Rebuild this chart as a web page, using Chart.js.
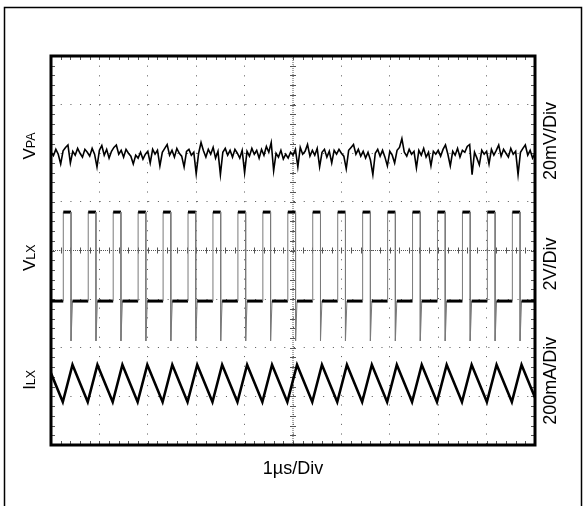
<!DOCTYPE html>
<html>
<head>
<meta charset="utf-8">
<script src="https://cdn.jsdelivr.net/npm/chart.js@4/dist/chart.umd.min.js"></script>
<style>
  html, body { margin: 0; padding: 0; background: #fff; }
  #wrap { position: relative; width: 584px; height: 506px; }
</style>
</head>
<body>
<div id="wrap"><canvas id="scope" width="584" height="506"></canvas></div>
<script>
// x axis in µs (1 µs/div, 10 divisions), y axis in screen divisions (8 divisions)
const xDivs = 10;
const yDivs = 8;

// VPA ripple, one sample every 0.05 µs, in divisions (20mV/div, centred near div 6)
const vpaStep = 0.05;
const vpaValues = [
  6.02, 5.95, 6.08, 5.98, 5.78, 6.05, 6.12, 6.17, 5.80, 6.04, 5.96, 6.10, 6.00, 5.92, 6.08, 6.02, 5.94, 6.10, 5.98, 5.72,
  6.06, 6.16, 5.96, 6.08, 5.90, 6.04, 6.12, 6.17, 5.98, 6.06, 5.92, 6.08, 6.00, 5.94, 5.78, 5.96, 5.90, 6.02, 5.88, 5.98,
  6.04, 5.80, 6.08, 5.98, 6.06, 5.74, 6.02, 6.10, 6.18, 5.96, 6.06, 5.92, 6.10, 6.00, 5.94, 5.72, 6.04, 6.08, 5.96, 6.02,
  5.58, 6.00, 6.22, 6.05, 5.92, 6.08, 5.98, 6.12, 5.90, 6.04, 5.56, 6.02, 6.10, 5.96, 6.06, 5.92, 6.08, 6.00, 5.90, 6.06,
  5.60, 6.04, 5.94, 6.10, 5.98, 6.06, 5.90, 6.08, 5.96, 6.14, 6.02, 6.22, 5.64, 6.00, 5.92, 6.06, 5.88, 5.98, 5.90, 6.02,
  5.96, 6.08, 5.72, 6.12, 5.98, 6.04, 6.18, 5.94, 6.06, 5.96, 6.10, 5.72, 6.02, 6.08, 5.92, 6.04, 5.80, 6.06, 5.98, 6.08,
  6.00, 5.94, 5.68, 6.06, 6.12, 6.18, 5.98, 6.08, 5.94, 6.04, 5.90, 6.02, 5.86, 5.56, 6.00, 6.08, 5.94, 6.06, 5.92, 5.74,
  6.04, 5.96, 5.80, 6.06, 6.12, 6.30, 6.02, 5.94, 6.08, 5.98, 6.04, 5.70, 6.06, 5.96, 6.10, 5.92, 6.02, 5.74, 6.04, 5.98,
  6.06, 5.94, 6.08, 6.17, 5.98, 5.74, 6.04, 5.96, 6.10, 5.92, 6.06, 6.02, 6.14, 6.18, 5.56, 6.02, 5.90, 5.76, 6.06, 5.98,
  6.04, 5.78, 6.08, 5.96, 6.06, 6.17, 5.94, 6.08, 6.00, 5.92, 6.10, 5.98, 6.04, 5.56, 6.02, 6.10, 6.17, 5.96, 6.06, 5.90,
  6.00
];

// VLX switching node: edge times in µs, levels in divisions (2V/div)
const vlxRise = [0.254, 0.769, 1.285, 1.800, 2.316, 2.831, 3.346, 3.862, 4.377, 4.893,
                 5.408, 5.924, 6.439, 6.955, 7.470, 7.985, 8.501, 9.016, 9.532];
const vlxFall = [0.414, 0.929, 1.445, 1.960, 2.476, 2.991, 3.506, 4.022, 4.537, 5.053,
                 5.568, 6.084, 6.599, 7.115, 7.630, 8.145, 8.661, 9.176, 9.692];
const vlxHigh = 4.79;
const vlxLow = 2.96;
const vlxUndershoot = 2.14;

// ILX inductor current: turning points in µs, levels in divisions (200mA/div)
const ilxPeakTimes = [-0.072, 0.444, 0.959, 1.475, 1.990, 2.506, 3.021, 3.536, 4.052, 4.567,
                      5.083, 5.598, 6.114, 6.629, 7.145, 7.660, 8.175, 8.691, 9.206, 9.722];
const ilxTroughTimes = [0.244, 0.759, 1.275, 1.790, 2.306, 2.821, 3.336, 3.852, 4.367, 4.883,
                        5.398, 5.914, 6.429, 6.945, 7.460, 7.975, 8.491, 9.006, 9.522, 10.037];
const ilxPeak = 1.65;
const ilxTrough = 0.885;

// labels
const leftLabels = [
  { big: "V", small: "PA", at: 6.15 },
  { big: "V", small: "LX", at: 3.85 },
  { big: "I", small: "LX", at: 1.34 }
];
const rightLabels = [
  { text: "20mV/Div", at: 6.25 },
  { text: "2V/Div", at: 3.72 },
  { text: "200mA/Div", at: 1.32 }
];
const timeLabel = "1µs/Div";

const FONT = "'Liberation Sans', Arial, sans-serif";

// build point lists from the arrays above
const vpaPoints = vpaValues.map((v, i) => ({ x: i * vpaStep, y: v }));

const vlxPoints = [{ x: 0, y: vlxLow }];
vlxRise.forEach((r, i) => {
  const f = vlxFall[i];
  vlxPoints.push({ x: r, y: vlxLow }, { x: r, y: vlxHigh }, { x: f, y: vlxHigh },
                 { x: f, y: vlxUndershoot }, { x: f + 0.03, y: vlxLow });
});
vlxPoints.push({ x: xDivs, y: vlxLow });

const ilxPoints = [];
ilxPeakTimes.forEach((t, i) => {
  ilxPoints.push({ x: t, y: ilxPeak }, { x: ilxTroughTimes[i], y: ilxTrough });
});

const isEdge = ctx => Math.abs(ctx.p1.parsed.x - ctx.p0.parsed.x) < 0.05;

// minor ticks, dense centre lines and the heavy frame of the graticule
const graticule = {
  id: "graticule",
  beforeDatasetsDraw(chart) {
    const { ctx, chartArea: a, scales: { x, y } } = chart;
    const xc = x.getPixelForValue(xDivs / 2);
    const yc = y.getPixelForValue(yDivs / 2);
    ctx.save();
    ctx.strokeStyle = "#555";
    ctx.lineWidth = 1;
    ctx.setLineDash([1, 1]);
    ctx.beginPath();
    ctx.moveTo(xc, a.top); ctx.lineTo(xc, a.bottom);
    ctx.moveTo(a.left, yc); ctx.lineTo(a.right, yc);
    ctx.stroke();
    ctx.setLineDash([]);
    ctx.beginPath();
    for (let k = 1; k < xDivs * 5; k++) {
      const px = Math.round(x.getPixelForValue(k / 5)) + 0.5;
      ctx.moveTo(px, a.top); ctx.lineTo(px, a.top + 4);
      ctx.moveTo(px, a.bottom); ctx.lineTo(px, a.bottom - 4);
      ctx.moveTo(px, yc - 3); ctx.lineTo(px, yc + 3);
    }
    for (let k = 1; k < yDivs * 5; k++) {
      const py = Math.round(y.getPixelForValue(k / 5)) + 0.5;
      ctx.moveTo(a.left, py); ctx.lineTo(a.left + 4, py);
      ctx.moveTo(a.right, py); ctx.lineTo(a.right - 4, py);
      ctx.moveTo(xc - 3, py); ctx.lineTo(xc + 3, py);
    }
    ctx.stroke();
    ctx.restore();
  },
  afterDatasetsDraw(chart) {
    const { ctx, chartArea: a } = chart;
    ctx.save();
    ctx.strokeStyle = "#000";
    ctx.lineWidth = 3;
    ctx.strokeRect(a.left, a.top, a.right - a.left, a.bottom - a.top);
    ctx.restore();
  }
};

const scopeText = {
  id: "scopeText",
  afterDraw(chart) {
    const { ctx, scales: { x, y } } = chart;
    ctx.save();
    // outer box
    ctx.strokeStyle = "#000";
    ctx.lineWidth = 1.5;
    ctx.beginPath();
    ctx.moveTo(4.5, 520); ctx.lineTo(4.5, 7.5); ctx.lineTo(581.5, 7.5); ctx.lineTo(581.5, 520);
    ctx.stroke();

    ctx.fillStyle = "#000";
    ctx.textBaseline = "alphabetic";
    leftLabels.forEach(l => {
      const bigFont = "17px " + FONT, smallFont = "12.5px " + FONT;
      ctx.font = bigFont;
      const wb = ctx.measureText(l.big).width;
      ctx.font = smallFont;
      const ws = ctx.measureText(l.small).width;
      ctx.save();
      ctx.translate(35, y.getPixelForValue(l.at));
      ctx.rotate(-Math.PI / 2);
      ctx.textAlign = "left";
      ctx.font = bigFont;
      ctx.fillText(l.big, -(wb + ws) / 2, 0);
      ctx.font = smallFont;
      ctx.fillText(l.small, -(wb + ws) / 2 + wb, 0);
      ctx.restore();
    });
    ctx.font = "18px " + FONT;
    ctx.textAlign = "center";
    rightLabels.forEach(l => {
      ctx.save();
      ctx.translate(556, y.getPixelForValue(l.at));
      ctx.rotate(-Math.PI / 2);
      ctx.fillText(l.text, 0, 0);
      ctx.restore();
    });
    ctx.fillText(timeLabel, x.getPixelForValue(xDivs / 2), 474);
    ctx.restore();
  }
};

new Chart(document.getElementById("scope"), {
  type: "line",
  data: {
    datasets: [
      {
        label: "VPA",
        data: vpaPoints,
        borderColor: "#000",
        borderWidth: 1.6,
        pointRadius: 0,
        tension: 0
      },
      {
        label: "VLX",
        data: vlxPoints,
        borderColor: "#000",
        borderWidth: 3,
        pointRadius: 0,
        tension: 0,
        segment: {
          borderColor: ctx => isEdge(ctx) ? "#7a7a7a" : "#000",
          borderWidth: ctx => isEdge(ctx) ? 1 : 3
        }
      },
      {
        label: "ILX",
        data: ilxPoints,
        borderColor: "#000",
        borderWidth: 2.6,
        borderJoinStyle: "miter",
        pointRadius: 0,
        tension: 0
      }
    ]
  },
  options: {
    responsive: false,
    animation: false,
    events: [],
    layout: { padding: { left: 51, top: 56, right: 49, bottom: 61 } },
    plugins: {
      legend: { display: false },
      tooltip: { enabled: false }
    },
    scales: {
      x: {
        type: "linear",
        min: 0,
        max: xDivs,
        ticks: { display: false, stepSize: 1 },
        grid: { color: "#555", lineWidth: 1, drawTicks: false },
        border: { display: false, dash: [1, 8.68] }
      },
      y: {
        type: "linear",
        min: 0,
        max: yDivs,
        ticks: { display: false, stepSize: 1 },
        grid: { color: "#555", lineWidth: 1, drawTicks: false },
        border: { display: false, dash: [1, 8.72] }
      }
    }
  },
  plugins: [graticule, scopeText]
});
</script>
</body>
</html>
